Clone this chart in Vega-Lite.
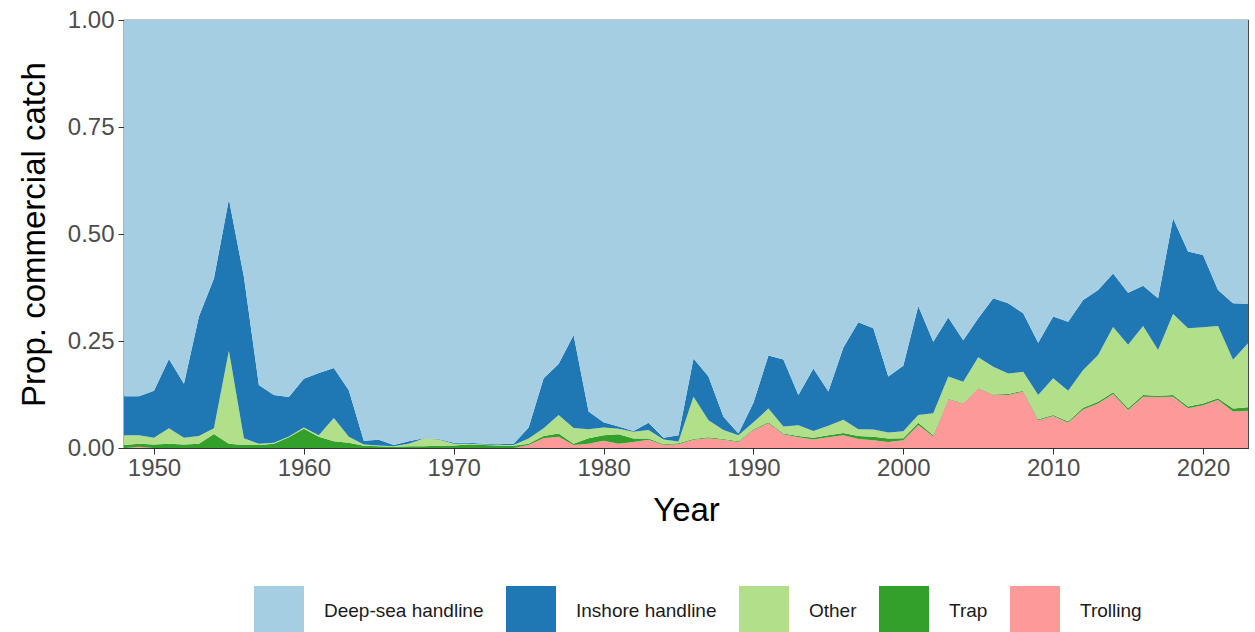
{
  "$schema": "https://vega.github.io/schema/vega-lite/v6.json",
  "autosize": {"type": "none"},
  "width": 1124,
  "height": 428,
  "padding": {"left": 124, "top": 20, "right": 7, "bottom": 184},
  "background": "#ffffff",
  "data": {"values": [
{"year":1948,"gear":"Trolling","prop":0},{"year":1948,"gear":"Trap","prop":0.007},{"year":1948,"gear":"Other","prop":0.023},{"year":1948,"gear":"Inshore handline","prop":0.091},{"year":1948,"gear":"Deep-sea handline","prop":0.879},
{"year":1949,"gear":"Trolling","prop":0.003},{"year":1949,"gear":"Trap","prop":0.007},{"year":1949,"gear":"Other","prop":0.020},{"year":1949,"gear":"Inshore handline","prop":0.091},{"year":1949,"gear":"Deep-sea handline","prop":0.879},
{"year":1950,"gear":"Trolling","prop":0},{"year":1950,"gear":"Trap","prop":0.008},{"year":1950,"gear":"Other","prop":0.016},{"year":1950,"gear":"Inshore handline","prop":0.110},{"year":1950,"gear":"Deep-sea handline","prop":0.866},
{"year":1951,"gear":"Trolling","prop":0},{"year":1951,"gear":"Trap","prop":0.010},{"year":1951,"gear":"Other","prop":0.036},{"year":1951,"gear":"Inshore handline","prop":0.162},{"year":1951,"gear":"Deep-sea handline","prop":0.792},
{"year":1952,"gear":"Trolling","prop":0},{"year":1952,"gear":"Trap","prop":0.008},{"year":1952,"gear":"Other","prop":0.016},{"year":1952,"gear":"Inshore handline","prop":0.126},{"year":1952,"gear":"Deep-sea handline","prop":0.850},
{"year":1953,"gear":"Trolling","prop":0},{"year":1953,"gear":"Trap","prop":0.010},{"year":1953,"gear":"Other","prop":0.018},{"year":1953,"gear":"Inshore handline","prop":0.279},{"year":1953,"gear":"Deep-sea handline","prop":0.693},
{"year":1954,"gear":"Trolling","prop":0},{"year":1954,"gear":"Trap","prop":0.033},{"year":1954,"gear":"Other","prop":0.013},{"year":1954,"gear":"Inshore handline","prop":0.350},{"year":1954,"gear":"Deep-sea handline","prop":0.604},
{"year":1955,"gear":"Trolling","prop":0},{"year":1955,"gear":"Trap","prop":0.010},{"year":1955,"gear":"Other","prop":0.217},{"year":1955,"gear":"Inshore handline","prop":0.354},{"year":1955,"gear":"Deep-sea handline","prop":0.419},
{"year":1956,"gear":"Trolling","prop":0},{"year":1956,"gear":"Trap","prop":0.007},{"year":1956,"gear":"Other","prop":0.016},{"year":1956,"gear":"Inshore handline","prop":0.377},{"year":1956,"gear":"Deep-sea handline","prop":0.600},
{"year":1957,"gear":"Trolling","prop":0},{"year":1957,"gear":"Trap","prop":0.007},{"year":1957,"gear":"Other","prop":0.003},{"year":1957,"gear":"Inshore handline","prop":0.137},{"year":1957,"gear":"Deep-sea handline","prop":0.853},
{"year":1958,"gear":"Trolling","prop":0},{"year":1958,"gear":"Trap","prop":0.010},{"year":1958,"gear":"Other","prop":0.002},{"year":1958,"gear":"Inshore handline","prop":0.112},{"year":1958,"gear":"Deep-sea handline","prop":0.876},
{"year":1959,"gear":"Trolling","prop":0},{"year":1959,"gear":"Trap","prop":0.025},{"year":1959,"gear":"Other","prop":0.002},{"year":1959,"gear":"Inshore handline","prop":0.092},{"year":1959,"gear":"Deep-sea handline","prop":0.881},
{"year":1960,"gear":"Trolling","prop":0},{"year":1960,"gear":"Trap","prop":0.045},{"year":1960,"gear":"Other","prop":0.003},{"year":1960,"gear":"Inshore handline","prop":0.114},{"year":1960,"gear":"Deep-sea handline","prop":0.838},
{"year":1961,"gear":"Trolling","prop":0},{"year":1961,"gear":"Trap","prop":0.026},{"year":1961,"gear":"Other","prop":0.004},{"year":1961,"gear":"Inshore handline","prop":0.145},{"year":1961,"gear":"Deep-sea handline","prop":0.825},
{"year":1962,"gear":"Trolling","prop":0},{"year":1962,"gear":"Trap","prop":0.016},{"year":1962,"gear":"Other","prop":0.054},{"year":1962,"gear":"Inshore handline","prop":0.117},{"year":1962,"gear":"Deep-sea handline","prop":0.813},
{"year":1963,"gear":"Trolling","prop":0},{"year":1963,"gear":"Trap","prop":0.012},{"year":1963,"gear":"Other","prop":0.014},{"year":1963,"gear":"Inshore handline","prop":0.109},{"year":1963,"gear":"Deep-sea handline","prop":0.865},
{"year":1964,"gear":"Trolling","prop":0},{"year":1964,"gear":"Trap","prop":0.005},{"year":1964,"gear":"Other","prop":0.003},{"year":1964,"gear":"Inshore handline","prop":0.009},{"year":1964,"gear":"Deep-sea handline","prop":0.983},
{"year":1965,"gear":"Trolling","prop":0},{"year":1965,"gear":"Trap","prop":0.004},{"year":1965,"gear":"Other","prop":0.002},{"year":1965,"gear":"Inshore handline","prop":0.013},{"year":1965,"gear":"Deep-sea handline","prop":0.981},
{"year":1966,"gear":"Trolling","prop":0},{"year":1966,"gear":"Trap","prop":0.003},{"year":1966,"gear":"Other","prop":0.001},{"year":1966,"gear":"Inshore handline","prop":0.003},{"year":1966,"gear":"Deep-sea handline","prop":0.993},
{"year":1967,"gear":"Trolling","prop":0},{"year":1967,"gear":"Trap","prop":0.004},{"year":1967,"gear":"Other","prop":0.006},{"year":1967,"gear":"Inshore handline","prop":0.006},{"year":1967,"gear":"Deep-sea handline","prop":0.984},
{"year":1968,"gear":"Trolling","prop":0},{"year":1968,"gear":"Trap","prop":0.004},{"year":1968,"gear":"Other","prop":0.018},{"year":1968,"gear":"Inshore handline","prop":0.001},{"year":1968,"gear":"Deep-sea handline","prop":0.977},
{"year":1969,"gear":"Trolling","prop":0},{"year":1969,"gear":"Trap","prop":0.005},{"year":1969,"gear":"Other","prop":0.015},{"year":1969,"gear":"Inshore handline","prop":0.001},{"year":1969,"gear":"Deep-sea handline","prop":0.979},
{"year":1970,"gear":"Trolling","prop":0},{"year":1970,"gear":"Trap","prop":0.006},{"year":1970,"gear":"Other","prop":0.004},{"year":1970,"gear":"Inshore handline","prop":0.002},{"year":1970,"gear":"Deep-sea handline","prop":0.988},
{"year":1971,"gear":"Trolling","prop":0},{"year":1971,"gear":"Trap","prop":0.008},{"year":1971,"gear":"Other","prop":0.002},{"year":1971,"gear":"Inshore handline","prop":0.002},{"year":1971,"gear":"Deep-sea handline","prop":0.988},
{"year":1972,"gear":"Trolling","prop":0},{"year":1972,"gear":"Trap","prop":0.007},{"year":1972,"gear":"Other","prop":0.001},{"year":1972,"gear":"Inshore handline","prop":0.002},{"year":1972,"gear":"Deep-sea handline","prop":0.990},
{"year":1973,"gear":"Trolling","prop":0},{"year":1973,"gear":"Trap","prop":0.006},{"year":1973,"gear":"Other","prop":0.001},{"year":1973,"gear":"Inshore handline","prop":0.002},{"year":1973,"gear":"Deep-sea handline","prop":0.991},
{"year":1974,"gear":"Trolling","prop":0},{"year":1974,"gear":"Trap","prop":0.005},{"year":1974,"gear":"Other","prop":0.002},{"year":1974,"gear":"Inshore handline","prop":0.003},{"year":1974,"gear":"Deep-sea handline","prop":0.990},
{"year":1975,"gear":"Trolling","prop":0.007},{"year":1975,"gear":"Trap","prop":0.003},{"year":1975,"gear":"Other","prop":0.012},{"year":1975,"gear":"Inshore handline","prop":0.026},{"year":1975,"gear":"Deep-sea handline","prop":0.952},
{"year":1976,"gear":"Trolling","prop":0.023},{"year":1976,"gear":"Trap","prop":0.005},{"year":1976,"gear":"Other","prop":0.018},{"year":1976,"gear":"Inshore handline","prop":0.117},{"year":1976,"gear":"Deep-sea handline","prop":0.837},
{"year":1977,"gear":"Trolling","prop":0.026},{"year":1977,"gear":"Trap","prop":0.008},{"year":1977,"gear":"Other","prop":0.043},{"year":1977,"gear":"Inshore handline","prop":0.119},{"year":1977,"gear":"Deep-sea handline","prop":0.804},
{"year":1978,"gear":"Trolling","prop":0.007},{"year":1978,"gear":"Trap","prop":0.003},{"year":1978,"gear":"Other","prop":0.037},{"year":1978,"gear":"Inshore handline","prop":0.217},{"year":1978,"gear":"Deep-sea handline","prop":0.736},
{"year":1979,"gear":"Trolling","prop":0.010},{"year":1979,"gear":"Trap","prop":0.013},{"year":1979,"gear":"Other","prop":0.021},{"year":1979,"gear":"Inshore handline","prop":0.041},{"year":1979,"gear":"Deep-sea handline","prop":0.915},
{"year":1980,"gear":"Trolling","prop":0.017},{"year":1980,"gear":"Trap","prop":0.013},{"year":1980,"gear":"Other","prop":0.018},{"year":1980,"gear":"Inshore handline","prop":0.012},{"year":1980,"gear":"Deep-sea handline","prop":0.940},
{"year":1981,"gear":"Trolling","prop":0.010},{"year":1981,"gear":"Trap","prop":0.022},{"year":1981,"gear":"Other","prop":0.013},{"year":1981,"gear":"Inshore handline","prop":0.005},{"year":1981,"gear":"Deep-sea handline","prop":0.950},
{"year":1982,"gear":"Trolling","prop":0.014},{"year":1982,"gear":"Trap","prop":0.008},{"year":1982,"gear":"Other","prop":0.016},{"year":1982,"gear":"Inshore handline","prop":0.002},{"year":1982,"gear":"Deep-sea handline","prop":0.960},
{"year":1983,"gear":"Trolling","prop":0.019},{"year":1983,"gear":"Trap","prop":0.003},{"year":1983,"gear":"Other","prop":0.020},{"year":1983,"gear":"Inshore handline","prop":0.017},{"year":1983,"gear":"Deep-sea handline","prop":0.941},
{"year":1984,"gear":"Trolling","prop":0.007},{"year":1984,"gear":"Trap","prop":0.002},{"year":1984,"gear":"Other","prop":0.011},{"year":1984,"gear":"Inshore handline","prop":0.004},{"year":1984,"gear":"Deep-sea handline","prop":0.976},
{"year":1985,"gear":"Trolling","prop":0.009},{"year":1985,"gear":"Trap","prop":0.002},{"year":1985,"gear":"Other","prop":0.004},{"year":1985,"gear":"Inshore handline","prop":0.015},{"year":1985,"gear":"Deep-sea handline","prop":0.970},
{"year":1986,"gear":"Trolling","prop":0.019},{"year":1986,"gear":"Trap","prop":0.002},{"year":1986,"gear":"Other","prop":0.099},{"year":1986,"gear":"Inshore handline","prop":0.089},{"year":1986,"gear":"Deep-sea handline","prop":0.791},
{"year":1987,"gear":"Trolling","prop":0.023},{"year":1987,"gear":"Trap","prop":0.002},{"year":1987,"gear":"Other","prop":0.040},{"year":1987,"gear":"Inshore handline","prop":0.102},{"year":1987,"gear":"Deep-sea handline","prop":0.833},
{"year":1988,"gear":"Trolling","prop":0.019},{"year":1988,"gear":"Trap","prop":0.002},{"year":1988,"gear":"Other","prop":0.021},{"year":1988,"gear":"Inshore handline","prop":0.031},{"year":1988,"gear":"Deep-sea handline","prop":0.927},
{"year":1989,"gear":"Trolling","prop":0.014},{"year":1989,"gear":"Trap","prop":0.002},{"year":1989,"gear":"Other","prop":0.014},{"year":1989,"gear":"Inshore handline","prop":0.004},{"year":1989,"gear":"Deep-sea handline","prop":0.966},
{"year":1990,"gear":"Trolling","prop":0.042},{"year":1990,"gear":"Trap","prop":0.002},{"year":1990,"gear":"Other","prop":0.016},{"year":1990,"gear":"Inshore handline","prop":0.046},{"year":1990,"gear":"Deep-sea handline","prop":0.894},
{"year":1991,"gear":"Trolling","prop":0.058},{"year":1991,"gear":"Trap","prop":0.002},{"year":1991,"gear":"Other","prop":0.032},{"year":1991,"gear":"Inshore handline","prop":0.124},{"year":1991,"gear":"Deep-sea handline","prop":0.784},
{"year":1992,"gear":"Trolling","prop":0.032},{"year":1992,"gear":"Trap","prop":0.002},{"year":1992,"gear":"Other","prop":0.016},{"year":1992,"gear":"Inshore handline","prop":0.157},{"year":1992,"gear":"Deep-sea handline","prop":0.793},
{"year":1993,"gear":"Trolling","prop":0.025},{"year":1993,"gear":"Trap","prop":0.003},{"year":1993,"gear":"Other","prop":0.025},{"year":1993,"gear":"Inshore handline","prop":0.071},{"year":1993,"gear":"Deep-sea handline","prop":0.876},
{"year":1994,"gear":"Trolling","prop":0.020},{"year":1994,"gear":"Trap","prop":0.004},{"year":1994,"gear":"Other","prop":0.016},{"year":1994,"gear":"Inshore handline","prop":0.146},{"year":1994,"gear":"Deep-sea handline","prop":0.814},
{"year":1995,"gear":"Trolling","prop":0.025},{"year":1995,"gear":"Trap","prop":0.005},{"year":1995,"gear":"Other","prop":0.022},{"year":1995,"gear":"Inshore handline","prop":0.080},{"year":1995,"gear":"Deep-sea handline","prop":0.868},
{"year":1996,"gear":"Trolling","prop":0.030},{"year":1996,"gear":"Trap","prop":0.005},{"year":1996,"gear":"Other","prop":0.031},{"year":1996,"gear":"Inshore handline","prop":0.169},{"year":1996,"gear":"Deep-sea handline","prop":0.765},
{"year":1997,"gear":"Trolling","prop":0.021},{"year":1997,"gear":"Trap","prop":0.007},{"year":1997,"gear":"Other","prop":0.016},{"year":1997,"gear":"Inshore handline","prop":0.250},{"year":1997,"gear":"Deep-sea handline","prop":0.706},
{"year":1998,"gear":"Trolling","prop":0.018},{"year":1998,"gear":"Trap","prop":0.008},{"year":1998,"gear":"Other","prop":0.017},{"year":1998,"gear":"Inshore handline","prop":0.237},{"year":1998,"gear":"Deep-sea handline","prop":0.720},
{"year":1999,"gear":"Trolling","prop":0.014},{"year":1999,"gear":"Trap","prop":0.008},{"year":1999,"gear":"Other","prop":0.014},{"year":1999,"gear":"Inshore handline","prop":0.131},{"year":1999,"gear":"Deep-sea handline","prop":0.833},
{"year":2000,"gear":"Trolling","prop":0.018},{"year":2000,"gear":"Trap","prop":0.005},{"year":2000,"gear":"Other","prop":0.016},{"year":2000,"gear":"Inshore handline","prop":0.153},{"year":2000,"gear":"Deep-sea handline","prop":0.808},
{"year":2001,"gear":"Trolling","prop":0.054},{"year":2001,"gear":"Trap","prop":0.005},{"year":2001,"gear":"Other","prop":0.018},{"year":2001,"gear":"Inshore handline","prop":0.255},{"year":2001,"gear":"Deep-sea handline","prop":0.668},
{"year":2002,"gear":"Trolling","prop":0.027},{"year":2002,"gear":"Trap","prop":0.003},{"year":2002,"gear":"Other","prop":0.051},{"year":2002,"gear":"Inshore handline","prop":0.167},{"year":2002,"gear":"Deep-sea handline","prop":0.752},
{"year":2003,"gear":"Trolling","prop":0.114},{"year":2003,"gear":"Trap","prop":0.001},{"year":2003,"gear":"Other","prop":0.052},{"year":2003,"gear":"Inshore handline","prop":0.138},{"year":2003,"gear":"Deep-sea handline","prop":0.695},
{"year":2004,"gear":"Trolling","prop":0.104},{"year":2004,"gear":"Trap","prop":0.001},{"year":2004,"gear":"Other","prop":0.050},{"year":2004,"gear":"Inshore handline","prop":0.097},{"year":2004,"gear":"Deep-sea handline","prop":0.748},
{"year":2005,"gear":"Trolling","prop":0.139},{"year":2005,"gear":"Trap","prop":0.001},{"year":2005,"gear":"Other","prop":0.072},{"year":2005,"gear":"Inshore handline","prop":0.091},{"year":2005,"gear":"Deep-sea handline","prop":0.697},
{"year":2006,"gear":"Trolling","prop":0.124},{"year":2006,"gear":"Trap","prop":0.001},{"year":2006,"gear":"Other","prop":0.065},{"year":2006,"gear":"Inshore handline","prop":0.160},{"year":2006,"gear":"Deep-sea handline","prop":0.650},
{"year":2007,"gear":"Trolling","prop":0.124},{"year":2007,"gear":"Trap","prop":0.002},{"year":2007,"gear":"Other","prop":0.048},{"year":2007,"gear":"Inshore handline","prop":0.164},{"year":2007,"gear":"Deep-sea handline","prop":0.662},
{"year":2008,"gear":"Trolling","prop":0.132},{"year":2008,"gear":"Trap","prop":0.002},{"year":2008,"gear":"Other","prop":0.044},{"year":2008,"gear":"Inshore handline","prop":0.137},{"year":2008,"gear":"Deep-sea handline","prop":0.685},
{"year":2009,"gear":"Trolling","prop":0.065},{"year":2009,"gear":"Trap","prop":0.002},{"year":2009,"gear":"Other","prop":0.057},{"year":2009,"gear":"Inshore handline","prop":0.122},{"year":2009,"gear":"Deep-sea handline","prop":0.754},
{"year":2010,"gear":"Trolling","prop":0.075},{"year":2010,"gear":"Trap","prop":0.002},{"year":2010,"gear":"Other","prop":0.086},{"year":2010,"gear":"Inshore handline","prop":0.144},{"year":2010,"gear":"Deep-sea handline","prop":0.693},
{"year":2011,"gear":"Trolling","prop":0.059},{"year":2011,"gear":"Trap","prop":0.003},{"year":2011,"gear":"Other","prop":0.072},{"year":2011,"gear":"Inshore handline","prop":0.161},{"year":2011,"gear":"Deep-sea handline","prop":0.705},
{"year":2012,"gear":"Trolling","prop":0.090},{"year":2012,"gear":"Trap","prop":0.004},{"year":2012,"gear":"Other","prop":0.088},{"year":2012,"gear":"Inshore handline","prop":0.164},{"year":2012,"gear":"Deep-sea handline","prop":0.654},
{"year":2013,"gear":"Trolling","prop":0.104},{"year":2013,"gear":"Trap","prop":0.004},{"year":2013,"gear":"Other","prop":0.109},{"year":2013,"gear":"Inshore handline","prop":0.152},{"year":2013,"gear":"Deep-sea handline","prop":0.631},
{"year":2014,"gear":"Trolling","prop":0.126},{"year":2014,"gear":"Trap","prop":0.004},{"year":2014,"gear":"Other","prop":0.153},{"year":2014,"gear":"Inshore handline","prop":0.125},{"year":2014,"gear":"Deep-sea handline","prop":0.592},
{"year":2015,"gear":"Trolling","prop":0.089},{"year":2015,"gear":"Trap","prop":0.004},{"year":2015,"gear":"Other","prop":0.148},{"year":2015,"gear":"Inshore handline","prop":0.122},{"year":2015,"gear":"Deep-sea handline","prop":0.637},
{"year":2016,"gear":"Trolling","prop":0.120},{"year":2016,"gear":"Trap","prop":0.004},{"year":2016,"gear":"Other","prop":0.161},{"year":2016,"gear":"Inshore handline","prop":0.094},{"year":2016,"gear":"Deep-sea handline","prop":0.621},
{"year":2017,"gear":"Trolling","prop":0.119},{"year":2017,"gear":"Trap","prop":0.003},{"year":2017,"gear":"Other","prop":0.107},{"year":2017,"gear":"Inshore handline","prop":0.121},{"year":2017,"gear":"Deep-sea handline","prop":0.650},
{"year":2018,"gear":"Trolling","prop":0.120},{"year":2018,"gear":"Trap","prop":0.004},{"year":2018,"gear":"Other","prop":0.189},{"year":2018,"gear":"Inshore handline","prop":0.224},{"year":2018,"gear":"Deep-sea handline","prop":0.463},
{"year":2019,"gear":"Trolling","prop":0.093},{"year":2019,"gear":"Trap","prop":0.004},{"year":2019,"gear":"Other","prop":0.183},{"year":2019,"gear":"Inshore handline","prop":0.179},{"year":2019,"gear":"Deep-sea handline","prop":0.541},
{"year":2020,"gear":"Trolling","prop":0.100},{"year":2020,"gear":"Trap","prop":0.004},{"year":2020,"gear":"Other","prop":0.178},{"year":2020,"gear":"Inshore handline","prop":0.169},{"year":2020,"gear":"Deep-sea handline","prop":0.549},
{"year":2021,"gear":"Trolling","prop":0.112},{"year":2021,"gear":"Trap","prop":0.004},{"year":2021,"gear":"Other","prop":0.169},{"year":2021,"gear":"Inshore handline","prop":0.084},{"year":2021,"gear":"Deep-sea handline","prop":0.631},
{"year":2022,"gear":"Trolling","prop":0.085},{"year":2022,"gear":"Trap","prop":0.007},{"year":2022,"gear":"Other","prop":0.114},{"year":2022,"gear":"Inshore handline","prop":0.132},{"year":2022,"gear":"Deep-sea handline","prop":0.662},
{"year":2023,"gear":"Trolling","prop":0.087},{"year":2023,"gear":"Trap","prop":0.008},{"year":2023,"gear":"Other","prop":0.150},{"year":2023,"gear":"Inshore handline","prop":0.092},{"year":2023,"gear":"Deep-sea handline","prop":0.663}
  ]},
  "mark": {"type": "area", "interpolate": "linear"},
  "encoding": {
    "x": {
      "field": "year", "type": "quantitative",
      "scale": {"domain": [1948, 2023], "nice": false, "zero": false},
      "axis": {"title": "Year", "values": [1950, 1960, 1970, 1980, 1990, 2000, 2010, 2020], "format": "d", "grid": false,
        "labelFontSize": 24, "labelColor": "#4d4d4d", "labelPadding": 2, "tickSize": 6, "tickColor": "#333333", "domainColor": "#333333", "domainWidth": 1.2,
        "titleFontSize": 33, "titleFontWeight": "normal", "titleColor": "#000000", "titlePadding": 14, "labelFlush": false}
    },
    "y": {
      "field": "prop", "type": "quantitative", "stack": "zero",
      "scale": {"domain": [0, 1], "nice": false},
      "axis": {"title": "Prop. commercial catch", "values": [0, 0.25, 0.5, 0.75, 1], "format": ".2f", "formatType": "number", "grid": false,
        "labelFontSize": 24, "labelColor": "#4d4d4d", "labelPadding": 4, "tickSize": 6, "tickColor": "#333333", "domainColor": "#333333", "domainWidth": 1.2,
        "titleFontSize": 33, "titleFontWeight": "normal", "titleColor": "#000000", "titlePadding": 16, "labelFlush": false}
    },
    "color": {
      "field": "gear", "type": "nominal",
      "scale": {"domain": ["Deep-sea handline", "Inshore handline", "Other", "Trap", "Trolling"],
                "range": ["#A6CEE3", "#1F78B4", "#B2DF8A", "#33A02C", "#FB9A99"]},
      "legend": {"title": null, "orient": "none", "direction": "horizontal", "legendX": 130, "legendY": 566,
        "symbolType": "square", "symbolSize": 2500, "symbolStrokeWidth": 0, "symbolOpacity": 1,
        "labelFontSize": 19, "labelColor": "#1a1a1a", "labelOffset": 20, "columnPadding": 22, "padding": 0}
    },
    "order": {"field": "gear", "sort": "descending"}
  },
  "config": {
    "font": "Liberation Sans",
    "view": {"stroke": "#333333", "strokeWidth": 1.2}
  }
}
